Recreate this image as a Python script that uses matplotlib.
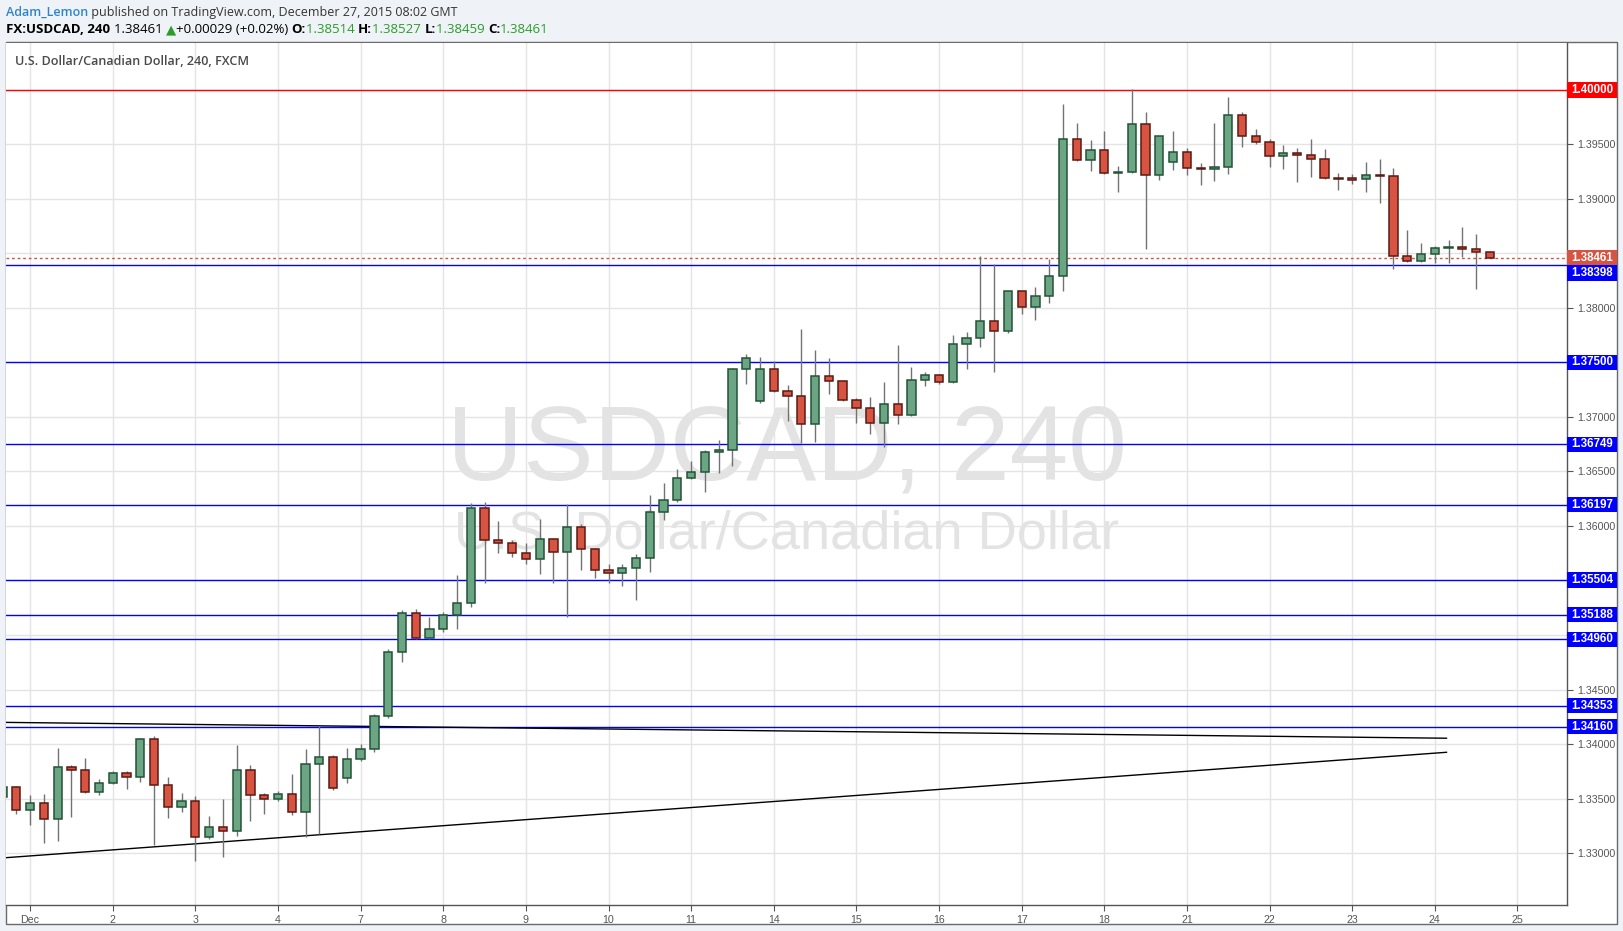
import matplotlib
matplotlib.use("Agg")
import matplotlib.pyplot as plt
from matplotlib.patches import Rectangle
import numpy as np

# 4h candles, first one is two bars before Dec 1 00:00
first_bar = -2
opens = [1.33517, 1.33603, 1.33392, 1.33456, 1.33309, 1.33786, 1.33758, 1.33556, 1.33640, 1.33731,
         1.33695, 1.34043, 1.33621, 1.33420, 1.33474, 1.33144, 1.33236, 1.33199, 1.33758, 1.33529,
         1.33492, 1.33538, 1.33377, 1.33814, 1.33878, 1.33685, 1.33860, 1.33958, 1.34254, 1.34841,
         1.35199, 1.34970, 1.35053, 1.35181, 1.35291, 1.36162, 1.35869, 1.35842, 1.35750, 1.35695,
         1.35878, 1.35759, 1.35994, 1.35786, 1.35594, 1.35566, 1.35612, 1.35704, 1.36126, 1.36236,
         1.36438, 1.36493, 1.36676, 1.36695, 1.37438, 1.37144, 1.37438, 1.37236, 1.37190, 1.36933,
         1.37374, 1.37328, 1.37153, 1.37080, 1.36942, 1.37117, 1.37016, 1.37337, 1.37383, 1.37319,
         1.37667, 1.37722, 1.37878, 1.37786, 1.38153, 1.38007, 1.38107, 1.38291, 1.39548, 1.39355,
         1.39447, 1.39236, 1.39245, 1.39685, 1.39218, 1.39337, 1.39428, 1.39282, 1.39273, 1.39291,
         1.39768, 1.39575, 1.39520, 1.39392, 1.39419, 1.39401, 1.39364, 1.39190, 1.39190, 1.39181,
         1.39218, 1.39209, 1.38474, 1.38429, 1.38493, 1.38548, 1.38557, 1.38539, 1.38514]
highs = [1.33620, 1.33615, 1.33532, 1.33541, 1.33961, 1.33808, 1.33872, 1.33679, 1.33752, 1.33752,
         1.34052, 1.34073, 1.33698, 1.33550, 1.33523, 1.33340, 1.33495, 1.33991, 1.33805, 1.33550,
         1.33568, 1.33725, 1.33955, 1.34168, 1.33899, 1.33964, 1.34001, 1.34275, 1.34869, 1.35227,
         1.35236, 1.35163, 1.35214, 1.35551, 1.36208, 1.36221, 1.36046, 1.35872, 1.35842, 1.36064,
         1.35890, 1.36199, 1.36018, 1.35800, 1.35652, 1.35652, 1.35743, 1.36285, 1.36398, 1.36523,
         1.36596, 1.36697, 1.36789, 1.37447, 1.37578, 1.37548, 1.37511, 1.37294, 1.37807, 1.37615,
         1.37541, 1.37330, 1.37171, 1.37183, 1.37321, 1.37661, 1.37456, 1.37413, 1.37390, 1.37752,
         1.37780, 1.38477, 1.38401, 1.38160, 1.38160, 1.38190, 1.38447, 1.39872, 1.39697, 1.39539,
         1.39624, 1.39303, 1.40005, 1.39795, 1.39580, 1.39624, 1.39465, 1.39330, 1.39697, 1.39936,
         1.39795, 1.39640, 1.39548, 1.39493, 1.39465, 1.39548, 1.39456, 1.39236, 1.39227, 1.39340,
         1.39367, 1.39284, 1.38716, 1.38596, 1.38566, 1.38624, 1.38743, 1.38679, 1.38527]
lows = [1.33500, 1.33361, 1.33260, 1.33095, 1.33113, 1.33333, 1.33550, 1.33535, 1.33636, 1.33590,
        1.33649, 1.33077, 1.33324, 1.33373, 1.32930, 1.33126, 1.32962, 1.33153, 1.33296, 1.33361,
        1.33480, 1.33346, 1.33144, 1.33178, 1.33578, 1.33645, 1.33842, 1.33923, 1.34236, 1.34756,
        1.34965, 1.34960, 1.35030, 1.35053, 1.35260, 1.35480, 1.35750, 1.35713, 1.35655, 1.35563,
        1.35480, 1.35168, 1.35600, 1.35526, 1.35480, 1.35453, 1.35324, 1.35581, 1.36055, 1.36218,
        1.36429, 1.36315, 1.36484, 1.36553, 1.37306, 1.37130, 1.37230, 1.36962, 1.36765, 1.36774,
        1.37214, 1.37150, 1.36947, 1.36847, 1.36728, 1.36933, 1.37010, 1.37282, 1.37300, 1.37310,
        1.37438, 1.37645, 1.37416, 1.37770, 1.37942, 1.37887, 1.38043, 1.38159, 1.39350, 1.39260,
        1.39230, 1.39067, 1.39240, 1.38544, 1.39177, 1.39269, 1.39223, 1.39131, 1.39168, 1.39232,
        1.39480, 1.39502, 1.39297, 1.39278, 1.39159, 1.39205, 1.39185, 1.39086, 1.39141, 1.39067,
        1.38966, 1.38361, 1.38420, 1.38420, 1.38416, 1.38416, 1.38465, 1.38177, 1.38459]
closes = [1.33603, 1.33392, 1.33456, 1.33309, 1.33786, 1.33758, 1.33556, 1.33640, 1.33731, 1.33695,
          1.34043, 1.33621, 1.33420, 1.33474, 1.33144, 1.33236, 1.33199, 1.33758, 1.33529, 1.33492,
          1.33538, 1.33377, 1.33814, 1.33878, 1.33594, 1.33860, 1.33958, 1.34254, 1.34841, 1.35199,
          1.34970, 1.35053, 1.35181, 1.35291, 1.36162, 1.35872, 1.35842, 1.35750, 1.35695, 1.35878,
          1.35759, 1.35994, 1.35786, 1.35594, 1.35566, 1.35612, 1.35704, 1.36126, 1.36236, 1.36438,
          1.36493, 1.36676, 1.36695, 1.37438, 1.37539, 1.37438, 1.37236, 1.37190, 1.36933, 1.37374,
          1.37328, 1.37153, 1.37080, 1.36942, 1.37117, 1.37016, 1.37337, 1.37383, 1.37319, 1.37667,
          1.37722, 1.37878, 1.37786, 1.38153, 1.38007, 1.38107, 1.38291, 1.39548, 1.39355, 1.39447,
          1.39236, 1.39245, 1.39685, 1.39218, 1.39575, 1.39428, 1.39282, 1.39273, 1.39291, 1.39768,
          1.39575, 1.39520, 1.39392, 1.39419, 1.39401, 1.39364, 1.39190, 1.39187, 1.39178, 1.39218,
          1.39209, 1.38474, 1.38429, 1.38493, 1.38548, 1.38557, 1.38539, 1.38511, 1.38461]

day_labels = ["Dec", "2", "3", "4", "7", "8", "9", "10", "11", "14", "15", "16",
              "17", "18", "21", "22", "23", "24", "25"]
bars_per_day = 6

levels = [1.40000, 1.38398, 1.37500, 1.36749, 1.36197, 1.35504, 1.35188, 1.34960, 1.34353, 1.34160]
level_colors = ["#ff0000"] + ["#0000ff"] * 9
last_price = 1.38461

# triangle trend lines (bar index, price)
upper_line_x = [-2.3, 102.85]
upper_line_y = [1.34199, 1.34053]
lower_line_x = [-2.3, 102.85]
lower_line_y = [1.32952, 1.33924]

W, H = 1623, 931
fig = plt.figure(figsize=(W / 100, H / 100), dpi=100, facecolor="#eff2f6")

# white chart frame
fig.add_artist(Rectangle((6 / W, 1 - 924 / H), (1617 - 6) / W, (924 - 42) / H,
                         transform=fig.transFigure, fc="white", ec="#6a6a6a", lw=1, zorder=0))

ax_h_px = 905 - 43
ax = fig.add_axes([6 / W, 1 - 905 / H, (1567 - 6) / W, ax_h_px / H])
ax.set_facecolor("white")

idx = np.arange(first_bar, first_bar + len(opens))
o = np.array(opens); c = np.array(closes); h = np.array(highs); l = np.array(lows)
up = c >= o

ax.vlines(idx, l, h, color="#737375", lw=1.0, zorder=3)
body_lo = np.minimum(o, c)
body_h = np.abs(c - o)
ax.bar(idx[up], body_h[up], bottom=body_lo[up], width=0.6,
       color="#6ba583", edgecolor="#225437", lw=1.1, zorder=4)
ax.bar(idx[~up], body_h[~up], bottom=body_lo[~up], width=0.6,
       color="#d75442", edgecolor="#5b1a13", lw=1.1, zorder=4)

# levels
for lv, col in zip(levels, level_colors):
    ax.axhline(lv, color=col, lw=1.0, zorder=2)
ax.axhline(last_price, color="#d75442", lw=1.0, ls=(0, (2, 2)), zorder=2)

ax.plot(upper_line_x, upper_line_y, color="black", lw=1.0, zorder=2.5)
ax.plot(lower_line_x, lower_line_y, color="black", lw=1.0, zorder=2.5)

ymin, ymax = 1.32523, 1.40431
ax.set_xlim(-1.75, 111.6)
ax.set_ylim(ymin, ymax)
px_per_unit = ax_h_px / (ymax - ymin)

# price labels on the axis, pushed apart when they collide
box_w = 50 / (1567 - 6)
box_h = 15.5 / px_per_unit
labels = sorted(list(zip(levels, level_colors)) + [(last_price, "#d75442")], reverse=True)
placed = []
prev_bottom = None
for lv, col in labels:
    centre = lv
    if prev_bottom is not None and centre + box_h / 2 > prev_bottom:
        centre = prev_bottom - box_h / 2
    placed.append((lv, col, centre))
    prev_bottom = centre - box_h / 2

ytrans = ax.get_yaxis_transform()
for lv, col, centre in placed:
    ax.add_patch(Rectangle((1.0, centre - box_h / 2), box_w, box_h, transform=ytrans,
                           fc=col, ec="none", clip_on=False, zorder=8))
    ax.text(1.0 + box_w / 2, centre, f"{lv:.5f}", transform=ytrans, ha="center", va="center",
            color="white", fontsize=8.3, weight="bold", family="Liberation Sans",
            clip_on=False, zorder=9)

# axes / grid
ax.yaxis.tick_right()
yt = np.arange(1.330, 1.4001, 0.005)
ax.set_yticks(yt)
ytl = []
for v in yt:
    hidden = any(abs(v - cen) < 0.75 * box_h for _, _, cen in placed)
    ytl.append("" if hidden else f"{v:.5f}")
ax.set_yticklabels(ytl)
ax.set_xticks(np.arange(len(day_labels)) * bars_per_day)
ax.set_xticklabels(day_labels)
ax.tick_params(axis="both", colors="#555555", labelsize=7.7, length=4, width=0.8,
               direction="out", pad=3)
for lab in ax.get_xticklabels() + ax.get_yticklabels():
    lab.set_fontfamily("Liberation Sans")
ax.grid(True, color="#e4e4e4", lw=1.0, zorder=0)
ax.set_axisbelow(True)
for s in ["left", "top"]:
    ax.spines[s].set_visible(False)
for s in ["right", "bottom"]:
    ax.spines[s].set_color("#555555")
    ax.spines[s].set_linewidth(1.0)

# watermark
ax.text(0.5, 0.494, "USDCAD, 240", transform=ax.transAxes, ha="center", va="baseline",
        fontsize=76, color="#e3e3e3", family="Liberation Sans", zorder=0.5)
ax.text(0.5, 0.413, "U.S. Dollar/Canadian Dollar", transform=ax.transAxes, ha="center",
        va="baseline", fontsize=39, color="#e3e3e3", family="Liberation Sans", zorder=0.5)

ax.text(9 / (1567 - 6), 1 - 22 / ax_h_px, "U.S. Dollar/Canadian Dollar, 240, FXCM",
        transform=ax.transAxes, ha="left", va="baseline", fontsize=9.1,
        color="#4a4a4a", family="Open Sans", weight="semibold", zorder=6)

# header
renderer = fig.canvas.get_renderer()
def chain(x_px, y_px, parts):
    x = x_px / W
    for s, kw in parts:
        t = fig.text(x, 1 - y_px / H, s, va="baseline", ha="left",
                     family=["Open Sans", "DejaVu Sans"], **kw)
        x += t.get_window_extent(renderer=renderer).width / W

green = "#2a9d2a"
fs1, fs2 = 9.0, 9.5
chain(6, 16, [("Adam_Lemon", dict(color="#2e86c8", fontsize=fs1, weight="semibold")),
              (" published on TradingView.com, December 27, 2015 08:02 GMT",
               dict(color="#333333", fontsize=fs1))])
chain(6, 33, [("FX:USDCAD, 240 ", dict(color="black", fontsize=fs2, weight="bold")),
              ("1.38461 ", dict(color="black", fontsize=fs2)),
              ("▲", dict(color=green, fontsize=fs2)),
              ("+0.00029 (+0.02%) ", dict(color="black", fontsize=fs2)),
              ("O:", dict(color="black", fontsize=fs2, weight="bold")),
              ("1.38514 ", dict(color=green, fontsize=fs2)),
              ("H:", dict(color="black", fontsize=fs2, weight="bold")),
              ("1.38527 ", dict(color=green, fontsize=fs2)),
              ("L:", dict(color="black", fontsize=fs2, weight="bold")),
              ("1.38459 ", dict(color=green, fontsize=fs2)),
              ("C:", dict(color="black", fontsize=fs2, weight="bold")),
              ("1.38461", dict(color=green, fontsize=fs2))])

fig.savefig("out.png", dpi=100, facecolor=fig.get_facecolor())
